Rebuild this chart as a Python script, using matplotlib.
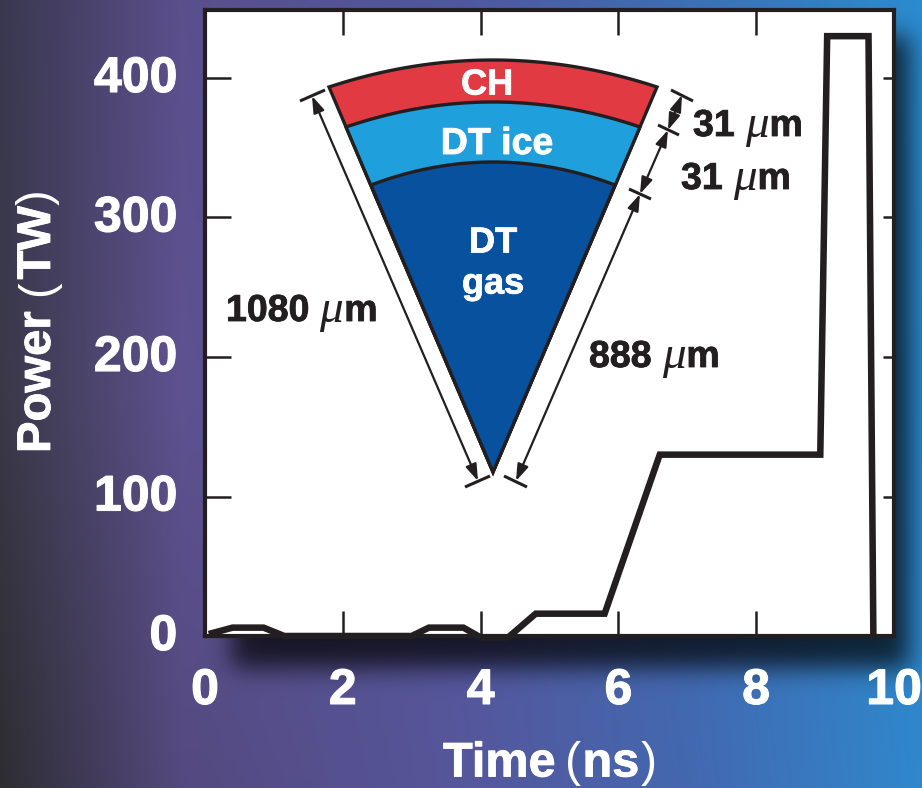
import numpy as np
import matplotlib
matplotlib.use("Agg")
import matplotlib.pyplot as plt
import matplotlib.patheffects as pe
from matplotlib.patches import Polygon
from matplotlib.transforms import ScaledTranslation

W, H = 922, 788
plt.rcParams['font.family'] = ['Liberation Sans', 'DejaVu Sans']

time_ns = [0.1, 0.4, 0.85, 1.15, 3.0, 3.25, 3.75, 4.0, 4.4, 4.8, 5.8, 6.6, 8.93, 9.03, 9.63, 9.7]
power_tw = [2, 6, 6, 0, 0, 6, 6, -1, -1, 16, 16, 130, 130, 430, 430, 3]
x_ticks = [0, 2, 4, 6, 8, 10]
y_ticks = [0, 100, 200, 300, 400]

bg_x = [0, 180, 460, 690, 922]
bg_y = [0, 394, 788]
bg_colors = [
    ['#3a3850', '#5b4f8c', '#4f589f', '#3d70b5', '#2a8ccf'],
    ['#3a3848', '#5e5290', '#52589e', '#3f6eb4', '#2a88cc'],
    ['#2e2d32', '#54497f', '#56569b', '#4368b0', '#3088cc'],
]

fig = plt.figure(figsize=(W / 100, H / 100), dpi=100)

# background gradient plus the blurred shadow behind the plot box
bg = fig.add_axes([0, 0, 1, 1], zorder=0)
bg.axis('off')
nodes = np.array([[matplotlib.colors.to_rgb(c) for c in row] for row in bg_colors])
xs, ys = np.arange(W), np.arange(H)
rows = np.stack([[np.interp(xs, bg_x, nodes[i, :, ch]) for ch in range(3)] for i in range(3)])
rgb = np.stack([[np.interp(ys, bg_y, rows[:, ch, j]) for j in range(W)] for ch in range(3)], axis=-1)
rgb = rgb.transpose(1, 0, 2) if rgb.shape[0] != H else rgb


def soft_step(n, a, b, size):
    s = np.zeros(n + 4 * size)
    s[a + 2 * size:b + 2 * size] = 1
    k = np.exp(-0.5 * (np.arange(-2 * size, 2 * size + 1) / (size / 2)) ** 2)
    return np.convolve(s, k / k.sum(), mode='same')[2 * size:n + 2 * size]


mask = np.outer(soft_step(H, 36, 668, 24), soft_step(W, 232, 908, 24))
rgb = rgb * (1 - 0.72 * mask)[..., None]
bg.imshow(rgb, aspect='auto', extent=(0, W, H, 0), interpolation='nearest')
bg.set_xlim(0, W)
bg.set_ylim(H, 0)

# main plot
ax = fig.add_axes([205 / W, 1 - 636 / H, 689 / W, 626 / H], zorder=1)
ax.set_facecolor('white')
ax.plot(time_ns, power_tw, color='#231f20', lw=4.7, solid_joinstyle='miter', clip_on=False, zorder=3)
ax.set_xlim(0, 10)
ax.set_ylim(0, 626 / 1.395)
ax.set_xticks(x_ticks)
ax.set_yticks(y_ticks)
ax.tick_params(axis='x', which='both', direction='in', top=True, length=18, width=1.8,
               color='#231f20', labelsize=36, labelcolor='white', pad=23)
ax.tick_params(axis='y', which='both', direction='in', right=True, length=19, width=1.8,
               color='#231f20', labelsize=36, labelcolor='white', pad=20)
for tick in ax.yaxis.get_major_ticks():
    tick.tick2line.set_markersize(8)
thick = [pe.withStroke(linewidth=0.8, foreground='white')]
nudge = ScaledTranslation(0, 4 / 100, fig.dpi_scale_trans)
for label in ax.get_xticklabels() + ax.get_yticklabels():
    label.set_fontweight('bold')
    label.set_path_effects(thick)
for label in ax.get_yticklabels():
    label.set_transform(label.get_transform() + nudge)
for spine in ax.spines.values():
    spine.set_linewidth(3)
    spine.set_color('#231f20')

# overlay in pixel coordinates for the wedge and the dimension marks
ov = fig.add_axes([0, 0, 1, 1], zorder=2)
ov.axis('off')
ov.set_xlim(0, W)
ov.set_ylim(H, 0)
ov.patch.set_alpha(0)

apex_x, apex_y = 493, 472
# top of arc, corner height, half width, colour of each layer
layers = [(60, 87, 164, '#e23a42'), (102, 127, 147, '#1f9fdc'), (162, 185, 122, '#07519e')]
for top, corner, half, c in layers:
    arc_x = np.linspace(-half, half, 60)
    arc_y = top + (corner - top) * (arc_x / half) ** 2
    pts = [(apex_x, apex_y)] + list(zip(apex_x + arc_x, arc_y))
    ov.add_patch(Polygon(pts, closed=True, facecolor=c, edgecolor='#231f20', lw=2.4, joinstyle='miter'))

ink = '#231f20'
for x1, y1, x2, y2 in [(300, 101, 325, 90), (465, 487, 490, 476), (504, 476, 527, 487),
                       (671, 90, 693, 101), (658, 125, 679, 135), (629, 189, 651, 199)]:
    ov.plot([x1, x2], [y1, y2], color=ink, lw=2.2, solid_capstyle='butt')
for x1, y1, x2, y2 in [(312, 96, 478, 481), (516, 481, 640, 194), (640, 194, 668, 130), (668, 130, 682, 95)]:
    ov.annotate('', xy=(x2, y2), xytext=(x1, y1),
                arrowprops=dict(arrowstyle='<|-|>,head_length=0.5,head_width=0.17', color=ink,
                                lw=1.6, shrinkA=0, shrinkB=0, mutation_scale=20))

for s, x, y, size in [('CH', 487, 85, 26), ('DT ice', 497, 144, 27), ('DT', 493, 243, 26), ('gas', 493, 284, 26)]:
    ov.text(x, y, s, color='white', fontsize=size, fontweight='bold', ha='center', va='center',
            path_effects=[pe.withStroke(linewidth=0.6, foreground='white')])


def runs(x, y, pieces, color, size, vertical=False):
    # lay out pieces of differing weight one after another, in pixels
    rend = fig.canvas.get_renderer()
    for s, kw, gap in pieces:
        kw = dict(kw)
        fs = kw.pop('fontsize', size)
        t = ov.text(x, y, s, color=color, fontsize=fs, va='center', ha='left' if not vertical else 'center',
                    rotation=90 if vertical else 0, rotation_mode='anchor' if not vertical else 'default',
                    path_effects=[pe.withStroke(linewidth=0.6, foreground=color)] if kw.get('fontweight') == 'bold' else None,
                    **kw)
        if vertical:
            t.set_va('bottom')
        e = t.get_window_extent(rend)
        if vertical:
            y -= e.height + gap
        else:
            x += e.width + gap


bold = dict(fontweight='bold')
thin = dict(fontweight='normal')
mu = dict(family=['Liberation Serif'], style='italic', fontsize=34)


def micron(x, y, number):
    runs(x, y, [(number, bold, 10), ('\u03bc', mu, 1), ('m', bold, 0)], ink, 27)


micron(226, 311, '1080')
micron(589, 357, '888')
micron(693, 126, '31')
micron(681, 179, '31')

runs(443, 764, [('Time', bold, 10), ('(', thin, 1), ('ns', bold, 1), (')', thin, 0)], 'white', 35)
runs(38, 453, [('Power', bold, 15), ('(', thin, 1), ('TW', bold, 1), (')', thin, 0)], 'white', 34, vertical=True)

fig.savefig('out.png', dpi=100)
